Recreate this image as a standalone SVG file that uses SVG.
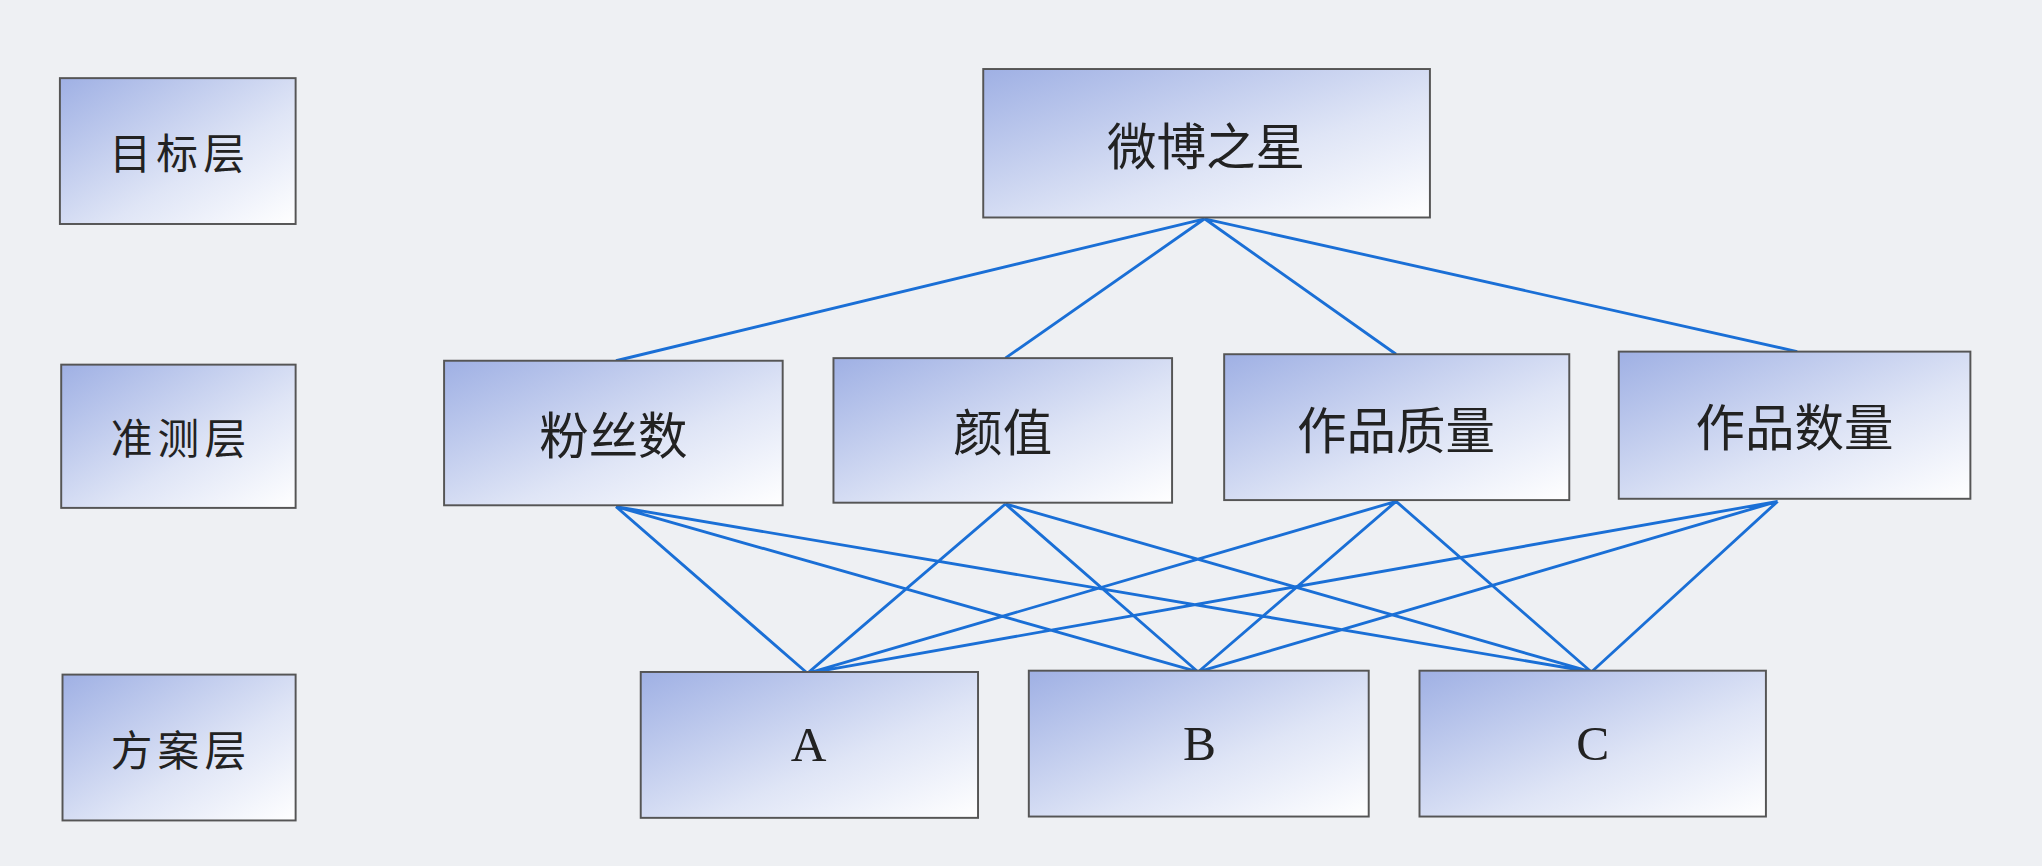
<svg xmlns="http://www.w3.org/2000/svg" width="2042" height="866" viewBox="0 0 2042 866">
<defs>
<linearGradient id="g" x1="0" y1="0" x2="1" y2="1">
<stop offset="0" stop-color="#9fb0e4"/>
<stop offset="0.6" stop-color="#dfe5f6"/>
<stop offset="1" stop-color="#ffffff"/>
</linearGradient>
<style>
.b{fill:url(#g);stroke:#555;stroke-width:1.5}
.t{font-family:"Noto Sans CJK SC","Liberation Serif",serif;fill:#222;text-anchor:middle;dominant-baseline:central}
.l{font-size:32px;letter-spacing:4px}
.c{font-size:38px}
.s{font-family:"Liberation Serif",serif;font-size:38px}
.e{stroke:#1a6fd6;stroke-width:2.2;fill:none}
</style>
</defs>
<rect width="2042" height="866" fill="#eef0f3"/>
<g transform="scale(1.3023)">
<g id="conn">
<path class="e" d="M925 168L473 277M925 168L772 275M925 168L1072 272M925 168L1380 270"/>
<path class="e" d="M473 389L620 517M473 389L920 516M473 389L1222 516M772 387L620 517M772 387L920 516M772 387L1222 516M1072 385L620 517M1072 385L920 516M1072 385L1222 516M1365 385L620 517M1365 385L920 516M1365 385L1222 516"/>
</g>
<g id="n1"><rect class="b" x="46" y="60" width="181" height="112"/><text class="t l" x="138" y="116">目标层</text></g>
<g id="n2"><rect class="b" x="47" y="280" width="180" height="110"/><text class="t l" x="139" y="335">准测层</text></g>
<g id="n3"><rect class="b" x="48" y="518" width="179" height="112"/><text class="t l" x="139" y="574">方案层</text></g>
<g id="n4"><rect class="b" x="755" y="53" width="343" height="114"/><text class="t c" x="926" y="110">微博之星</text></g>
<g id="n5"><rect class="b" x="341" y="277" width="260" height="111"/><text class="t c" x="471" y="332">粉丝数</text></g>
<g id="n6"><rect class="b" x="640" y="275" width="260" height="111"/><text class="t c" x="770" y="330">颜值</text></g>
<g id="n7"><rect class="b" x="940" y="272" width="265" height="112"/><text class="t c" x="1072" y="328">作品质量</text></g>
<g id="n8"><rect class="b" x="1243" y="270" width="270" height="113"/><text class="t c" x="1378" y="326">作品数量</text></g>
<g id="n9"><rect class="b" x="492" y="516" width="259" height="112"/><text class="t s" x="621" y="572">A</text></g>
<g id="n10"><rect class="b" x="790" y="515" width="261" height="112"/><text class="t s" x="921" y="571">B</text></g>
<g id="n11"><rect class="b" x="1090" y="515" width="266" height="112"/><text class="t s" x="1223" y="571">C</text></g>
</g>
</svg>
